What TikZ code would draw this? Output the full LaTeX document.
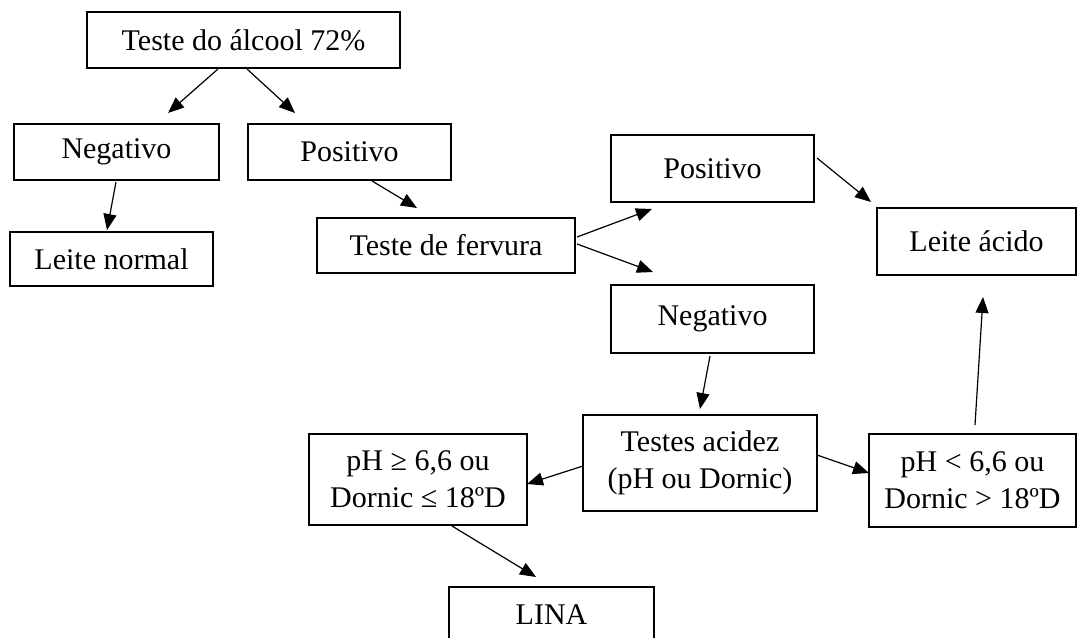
\documentclass[tikz,border=0pt]{standalone}
\usepackage{fontspec}
\setmainfont{Liberation Serif}
\usetikzlibrary{arrows.meta,calc}
\begin{document}
\begin{tikzpicture}[x=1pt,y=-1pt,
  box/.style={draw=black,line width=2.6pt,inner sep=0pt,outer sep=0pt,
    align=center,font=\fontsize{30}{37}\selectfont},
  arr/.style={line width=1.2pt,-{Triangle[length=16pt,width=13pt]}}]
\clip (0,0) rectangle (1078,637);
\useasboundingbox (0,0) rectangle (1078,637);
\fill[white] (0,0) rectangle (1078,637);
% boxes (centre, width, height)
\node[box,minimum width=313pt,minimum height=56pt] (A) at (243.5,40) {Teste do álcool 72\%};
\node[box,minimum width=205pt,minimum height=56pt] (B) at (116.5,152) {Negativo};
\node[box,minimum width=203pt,minimum height=56pt] (C) at (349.5,152) {Positivo};
\node[box,minimum width=203pt,minimum height=54pt] (D) at (111.5,259) {Leite normal};
\node[box,minimum width=258pt,minimum height=55pt] (E) at (446,245.5) {Teste de fervura};
\node[box,minimum width=203pt,minimum height=67pt] (F) at (712.5,168.5) {Positivo};
\node[box,minimum width=199pt,minimum height=67pt] (G) at (976.5,241.5) {Leite ácido};
\node[box,minimum width=203pt,minimum height=68pt] (H) at (712.5,319) {Negativo};
\node[box,minimum width=234pt,minimum height=96pt] (I) at (700,463) {Testes acidez\\(pH ou Dornic)};
\node[box,minimum width=218pt,minimum height=91pt] (J) at (418,479.5) {pH ≥ 6,6 ou\\Dornic ≤ 18ºD};
\node[box,minimum width=207pt,minimum height=93pt] (K) at (972.5,480.5) {pH < 6,6 ou\\Dornic > 18ºD};
\node[box,minimum width=205pt,minimum height=56pt] (L) at (551.5,615) {LINA};
% connectors
\draw[arr] ($(A.south west)+(131,1)$) -- ($(B.north west)+(154,-11)$);
\draw[arr] ($(A.south west)+(160,1)$) -- ($(C.north west)+(47,-11)$);
\draw[arr] ($(B.south west)+(102,2)$) -- ($(D.north west)+(97,-2)$);
\draw[arr] ($(C.south west)+(124,1)$) -- ($(E.north west)+(100,-10)$);
\draw[arr] ($(E.north east)+(2,19)$) -- ($(F.south west)+(41,7)$);
\draw[arr] ($(E.north east)+(2,26)$) -- ($(H.north west)+(42,-13)$);
\draw[arr] ($(F.north east)+(3,23)$) -- ($(G.north west)+(-6,-6)$);
\draw[arr] ($(H.south west)+(99,3)$) -- ($(I.north west)+(117,-6)$);
\draw[arr] ($(I.north west)+(0,51)$) -- ($(J.north east)+(0,50)$);
\draw[arr] ($(I.north east)+(0,40)$) -- ($(K.north west)+(0,39)$);
\draw[arr] ($(K.north west)+(106,-9)$) -- ($(G.south west)+(106,22)$);
\draw[arr] ($(J.south west)+(143,1)$) -- ($(L.north west)+(87,-10)$);
\end{tikzpicture}
\end{document}
